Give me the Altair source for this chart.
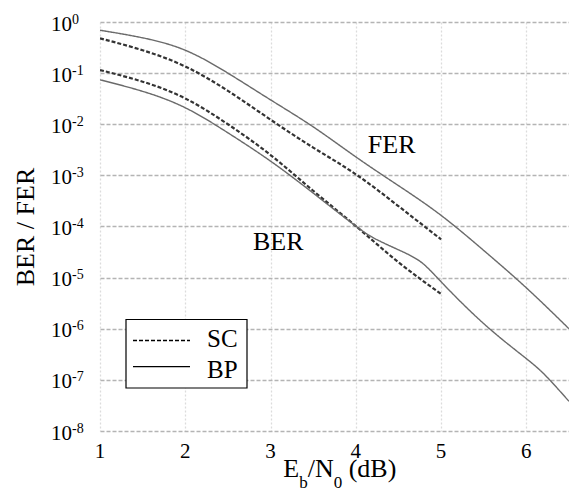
import altair as alt
import pandas as pd

FONT = "Liberation Serif"

# ---- data (Eb/N0 in dB, error rates) ----
bp_fer_x = [1, 1.5, 2, 2.5, 3, 3.5, 4, 4.5, 5, 5.5, 6, 6.5]
bp_fer_y = [6.9e-1, 4.9e-1, 2.8e-1, 1.0e-1, 3.0e-2, 8.9e-3, 2.3e-3, 6.3e-4, 1.65e-4, 3.4e-5, 6.3e-6, 1.0e-6]

sc_fer_x = [1, 1.5, 2, 2.5, 3, 3.5, 4, 4.5, 5]
sc_fer_y = [4.8e-1, 2.8e-1, 1.35e-1, 4.5e-2, 1.23e-2, 3.5e-3, 1.05e-3, 2.5e-4, 5.6e-5]

sc_ber_x = [1, 1.5, 2, 2.5, 3, 3.5, 4, 4.5, 5]
sc_ber_y = [1.15e-1, 6.8e-2, 3.2e-2, 1.0e-2, 2.5e-3, 5.0e-4, 1.02e-4, 2.0e-5, 4.8e-6]

bp_ber_x = [1, 1.5, 2, 2.5, 3, 3.5, 4, 4.25, 4.5, 4.75, 5, 5.5, 6, 6.25, 6.5]
bp_ber_y = [7.4e-2, 4.4e-2, 2.1e-2, 6.8e-3, 1.9e-3, 4.5e-4, 1.02e-4, 5.5e-5, 3.5e-5,
            2.1e-5, 8.3e-6, 1.26e-6, 2.6e-7, 1.1e-7, 3.8e-8]

schemes = ["SC", "BP"]
x_ticks = [1, 2, 3, 4, 5, 6]
x_tick_labels = ["1", "2", "3", "4", "5", "6"]
y_ticks = [1e0, 1e-1, 1e-2, 1e-3, 1e-4, 1e-5, 1e-6, 1e-7, 1e-8]
y_exps = ["0", "-1", "-2", "-3", "-4", "-5", "-6", "-7", "-8"]

ann_text = ["FER", "BER"]
ann_x = [4.42, 3.09]
ann_y = [4.0e-3, 4.9e-5]

rows = []
for xs, ys, sch, met in [(bp_fer_x, bp_fer_y, "BP", "FER"), (sc_fer_x, sc_fer_y, "SC", "FER"),
                         (sc_ber_x, sc_ber_y, "SC", "BER"), (bp_ber_x, bp_ber_y, "BP", "BER")]:
    for a, b in zip(xs, ys):
        rows.append({"ebn0": a, "rate": b, "scheme": sch, "metric": met})
df = pd.DataFrame(rows)

x_enc = alt.X("ebn0:Q", scale=alt.Scale(domain=[1, 6.5], nice=False, zero=False),
              axis=alt.Axis(values=x_ticks, title=None, labels=False,
                            domain=False, ticks=False, tickSize=0, gridColor="#dcdcdc",
                            gridDash=[2, 2], gridWidth=1.3))
y_enc = alt.Y("rate:Q", scale=alt.Scale(type="log", domain=[1e-8, 1], nice=False),
              axis=alt.Axis(values=y_ticks, labels=False, title="BER / FER",
                            titleFont=FONT, titleFontSize=26, titleFontWeight="normal",
                            titleColor="black", titleX=-67, titleY=204.5, titleAngle=270,
                            titleBaseline="alphabetic", titleAlign="center",
                            domain=False, ticks=False, tickSize=0,
                            gridColor="#b4b4b4", gridDash=[4, 2], gridWidth=1.5))

lines = alt.Chart(df).mark_line(interpolate="natural", clip=True).encode(
    x=x_enc,
    y=y_enc,
    color=alt.Color("scheme:N", scale=alt.Scale(domain=schemes, range=["#333333", "#6a6a6a"]),
                    legend=None),
    strokeWidth=alt.StrokeWidth("scheme:N", scale=alt.Scale(domain=schemes, range=[2.2, 1.4]),
                                legend=None),
    strokeDash=alt.StrokeDash("scheme:N", scale=alt.Scale(domain=schemes, range=[[4, 2], [1, 0]]),
                              legend=None),
    detail="metric:N",
)

ann_df = pd.DataFrame({"ebn0": ann_x, "rate": ann_y, "label": ann_text})
ann = alt.Chart(ann_df).mark_text(font=FONT, fontSize=26, color="black", align="center",
                                  baseline="middle").encode(x="ebn0:Q", y="rate:Q", text="label:N")

# tick labels as text marks placed through the scales
ylab_df = pd.DataFrame({"rate": y_ticks, "exp": y_exps, "base": ["10"] * len(y_ticks)})
ybase = alt.Chart(ylab_df).mark_text(font=FONT, fontSize=21, color="black", align="right",
                                     baseline="alphabetic", dy=8.5).encode(
    x=alt.value(-28), y="rate:Q", text="base:N")
yexp = alt.Chart(ylab_df).mark_text(font=FONT, fontSize=14, color="black", align="left",
                                    baseline="alphabetic", dy=1.5).encode(
    x=alt.value(-28), y="rate:Q", text="exp:N")

xlab_df = pd.DataFrame({"ebn0": x_ticks, "lab": x_tick_labels})
xlabs = alt.Chart(xlab_df).mark_text(font=FONT, fontSize=21, color="black", align="center",
                                     baseline="alphabetic").encode(
    x="ebn0:Q", y=alt.value(436), text="lab:N")


def piece(txt, px, py, size):
    return alt.Chart(pd.DataFrame({"t": [txt]})).mark_text(
        font=FONT, fontSize=size, color="black", align="left", baseline="alphabetic").encode(
        x=alt.value(px), y=alt.value(py), text="t:N")


title_parts = [
    piece("E", 183.3, 455, 26),
    piece("b", 199.2, 466, 17),
    piece("/N", 207.7, 455, 26),
    piece("0", 233.7, 466, 17),
    piece("(dB)", 248.7, 455, 26),
]

# ---- legend box (drawn by hand) ----
one = pd.DataFrame({"a": [0]})
legend_box = alt.Chart(one).mark_rect(fill="white", stroke="black", strokeWidth=1.2).encode(
    x=alt.value(26), x2=alt.value(147), y=alt.value(297.5), y2=alt.value(366))
legend_sc = alt.Chart(one).mark_rule(color="black", strokeWidth=1.3, strokeDash=[4, 2]).encode(
    x=alt.value(33), x2=alt.value(90), y=alt.value(318.5))
legend_bp = alt.Chart(one).mark_rule(color="black", strokeWidth=1.3).encode(
    x=alt.value(33), x2=alt.value(90), y=alt.value(344.7))
legend_labels = [piece(schemes[0], 107, 325.3, 25), piece(schemes[1], 107, 356.3, 25)]

chart = alt.layer(lines, ann, ybase, yexp, xlabs, *title_parts, legend_box, legend_sc,
                  legend_bp, *legend_labels).properties(
    width=469, height=409,
    padding={"left": 100, "top": 22, "right": 0, "bottom": 67},
    autosize=alt.AutoSizeParams(type="none"),
    background="white",
).configure(font=FONT).configure_view(stroke=None)

chart.save("out.html", embed_options={"renderer": "svg", "actions": False})
